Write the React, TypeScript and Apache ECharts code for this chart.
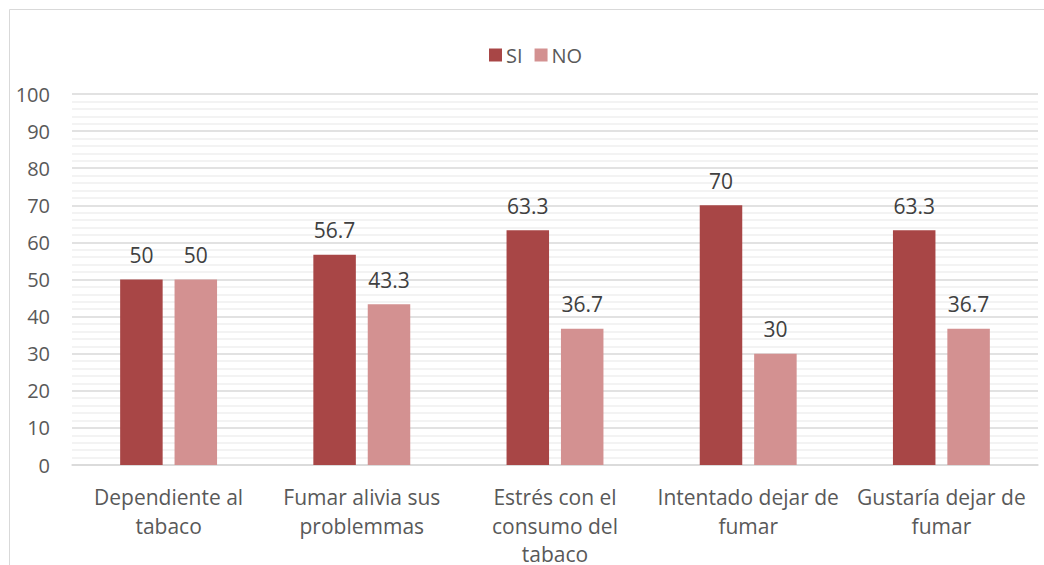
import React, { useEffect, useRef } from "react";
import * as echarts from "echarts";

const categories = [
  "Dependiente al\ntabaco",
  "Fumar alivia sus\nproblemmas",
  "Estrés con el\nconsumo del\ntabaco",
  "Intentado dejar de\nfumar",
  "Gustaría dejar de\nfumar",
];
const siValues = [50, 56.7, 63.3, 70, 63.3];
const noValues = [50, 43.3, 36.7, 30, 36.7];
const seriesNames = ["SI", "NO"];

const FONT = "'Open Sans', sans-serif";

export default function App() {
  const ref = useRef<HTMLDivElement>(null);
  useEffect(() => {
    if (!ref.current) return;
    const chart = echarts.init(ref.current, null, { renderer: "svg" });
    const labelStyle = {
      show: true,
      position: "top" as const,
      distance: 14,
      color: "#404040",
      fontSize: 21,
      fontFamily: FONT,
    };
    chart.setOption({
      animation: false,
      backgroundColor: "#ffffff",
      textStyle: { fontFamily: FONT },
      graphic: [
        {
          type: "rect",
          shape: { x: 9.5, y: 9.5, width: 1100, height: 600 },
          style: { fill: "none", stroke: "#d9d9d9", lineWidth: 1 },
          silent: true,
        },
      ],
      legend: {
        top: 40,
        left: 484,
        itemWidth: 13,
        itemHeight: 13,
        itemGap: 12,
        icon: "rect",
        textStyle: { color: "#595959", fontSize: 20, fontFamily: FONT, padding: [0, 0, 0, -1] },
        data: seriesNames,
      },
      grid: { left: 72, right: 6, top: 94, bottom: 100, containLabel: false, outerBoundsMode: "none" },
      xAxis: {
        type: "category",
        data: categories,
        axisLine: { show: true, lineStyle: { color: "#d9d9d9", width: 1.5 } },
        axisTick: { show: false },
        axisLabel: {
          color: "#595959",
          fontSize: 21,
          fontFamily: FONT,
          lineHeight: 28.5,
          margin: 18,
          interval: 0,
        },
      },
      yAxis: {
        type: "value",
        min: 0,
        max: 100,
        interval: 10,
        axisLine: { show: false },
        axisTick: { show: false },
        axisLabel: { color: "#595959", fontSize: 20, fontFamily: FONT, margin: 22 },
        splitLine: { show: true, lineStyle: { color: "#d9d9d9", width: 1.5 } },
        minorTick: { show: false, splitNumber: 5 },
        minorSplitLine: { show: true, lineStyle: { color: "#efefef", width: 1.5 } },
      },
      series: [
        {
          name: seriesNames[0],
          type: "bar",
          data: siValues,
          barWidth: "22%",
          barGap: "28%",
          itemStyle: { color: "#a84646" },
          label: labelStyle,
        },
        {
          name: seriesNames[1],
          type: "bar",
          data: noValues,
          barWidth: "22%",
          itemStyle: { color: "#d39191" },
          label: labelStyle,
        },
      ],
    });
    return () => chart.dispose();
  }, []);
  return (
    <div
      ref={ref}
      style={{ position: "fixed", left: 0, top: 0, width: 1044, height: 565 }}
    />
  );
}
